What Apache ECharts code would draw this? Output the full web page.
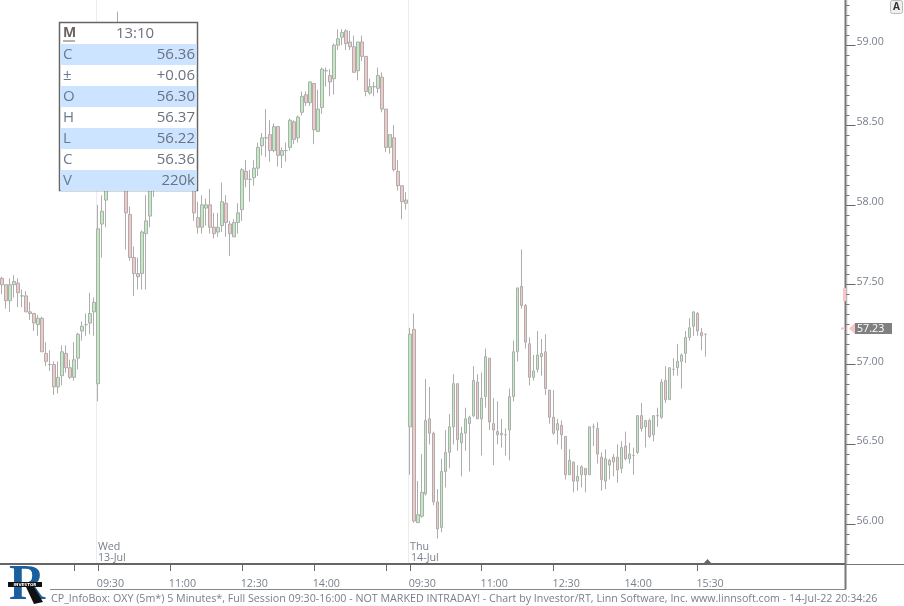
<!DOCTYPE html>
<html><head><meta charset="utf-8">
<style>html,body{margin:0;padding:0;background:#fff}#c{width:904px;height:606px}</style>
<script src="https://cdn.jsdelivr.net/npm/echarts@6/dist/echarts.min.js"></script></head>
<body><div id="c"></div>
<script>
const opens=[57.54,57.50,57.40,57.50,57.51,57.43,57.43,57.33,57.32,57.25,57.29,57.07,57.00,57.00,56.86,56.93,57.07,56.98,56.92,57.04,57.21,57.25,57.26,57.33,
56.88,57.88,58.03,58.12,58.25,58.53,58.78,58.34,57.94,57.67,57.57,57.57,57.82,57.93,58.09,58.25,58.37,58.28,58.47,58.56,58.41,58.31,58.19,58.22,58.09,57.92,
57.86,57.98,58.00,57.86,57.83,57.87,58.01,57.88,57.80,57.89,57.97,58.21,58.16,58.17,58.23,58.37,58.42,58.44,58.34,58.49,58.31,58.34,58.36,58.52,58.42,58.58,
58.69,58.64,58.76,58.46,58.61,58.84,58.81,58.79,59.00,59.05,59.09,59.02,58.99,58.84,59.02,58.93,58.70,58.74,58.73,58.80,58.60,58.36,58.42,58.21,58.12,58.03,
56.61,57.22,56.01,56.05,56.19,56.66,56.57,56.14,55.98,56.33,56.45,56.61,56.88,56.51,56.57,56.63,56.68,56.89,56.66,56.80,57.04,56.63,56.58,56.56,56.56,56.59,
56.80,57.08,57.49,57.37,57.13,56.92,56.97,57.05,57.08,56.84,56.67,56.59,56.62,56.55,56.31,56.39,56.27,56.31,56.35,56.31,56.61,56.60,56.42,56.27,56.40,56.39,
56.42,56.35,56.49,56.41,56.43,56.45,56.68,56.61,56.65,56.56,56.68,56.67,56.90,56.78,56.97,56.98,57.02,57.07,57.17,57.24,57.32,57.20,57.19];
const closes=[57.50,57.40,57.50,57.52,57.45,57.43,57.33,57.32,57.26,57.29,57.08,57.02,57.00,56.86,56.92,57.08,56.98,56.92,57.03,57.19,57.24,57.25,57.32,57.39,
57.85,57.96,58.12,58.25,58.53,58.91,58.34,57.95,57.67,57.57,57.55,57.83,57.90,58.09,58.25,58.34,58.28,58.47,58.56,58.41,58.31,58.19,58.25,58.09,57.95,57.86,
58.00,58.00,57.86,57.82,57.86,58.02,57.89,57.82,57.89,57.95,58.22,58.16,58.16,58.23,58.36,58.42,58.42,58.34,58.49,58.31,58.34,58.34,58.53,58.41,58.55,58.68,
58.64,58.77,58.47,58.60,58.85,58.84,58.77,59.00,59.04,59.08,59.01,58.99,58.83,59.02,58.93,58.71,58.74,58.74,58.81,58.60,58.36,58.44,58.22,58.12,58.02,58.01,
57.19,56.02,56.06,56.20,56.65,56.57,56.14,55.97,56.33,56.45,56.61,56.88,56.53,56.57,56.66,56.67,56.90,56.66,56.79,57.05,56.64,56.59,56.56,56.57,56.56,56.80,
57.08,57.48,57.37,57.14,56.92,56.96,57.06,57.07,56.85,56.67,56.57,56.63,56.56,56.31,56.40,56.27,56.30,56.36,56.31,56.61,56.61,56.44,56.28,56.41,56.37,56.42,
56.34,56.48,56.41,56.44,56.43,56.68,56.60,56.65,56.55,56.68,56.68,56.89,56.78,56.98,56.97,57.02,57.06,57.17,57.23,57.33,57.21,57.18,57.19];
const lows=[57.44,57.35,57.33,57.42,57.36,57.36,57.33,57.28,57.21,57.18,57.08,56.99,56.96,56.81,56.82,56.87,56.95,56.91,56.90,56.97,57.15,57.18,57.19,57.18,
56.77,57.67,57.86,58.10,58.19,58.47,58.22,57.72,57.65,57.43,57.47,57.47,57.47,57.86,58.05,58.19,58.21,58.22,58.41,58.34,58.22,58.12,58.14,58.09,57.90,57.82,
57.82,57.87,57.82,57.79,57.80,57.83,57.80,57.68,57.80,57.82,57.90,58.11,58.02,58.12,58.18,58.31,58.30,58.27,58.33,58.24,58.23,58.27,58.34,58.38,58.39,58.56,
58.62,58.62,58.38,58.46,58.57,58.74,58.68,58.69,58.97,59.00,58.97,58.97,58.83,58.78,58.90,58.68,58.69,58.68,58.70,58.58,58.33,58.32,58.21,58.09,57.91,57.97,
56.31,56.01,56.01,56.04,56.18,56.50,56.12,55.91,55.95,56.23,56.35,56.50,56.46,56.30,56.46,56.33,56.67,56.66,56.43,56.73,56.59,56.37,56.50,56.48,56.43,56.40,
56.77,57.02,57.35,57.10,56.87,56.90,56.95,56.93,56.81,56.63,56.56,56.50,56.47,56.28,56.31,56.20,56.21,56.23,56.20,56.31,56.49,56.38,56.21,56.22,56.28,56.30,
56.26,56.32,56.40,56.38,56.31,56.44,56.58,56.48,56.54,56.52,56.61,56.66,56.76,56.78,56.93,56.93,56.85,57.01,57.15,57.18,57.18,57.09,57.05];
const highs=[57.55,57.50,57.54,57.56,57.54,57.47,57.46,57.39,57.32,57.31,57.30,57.14,57.09,57.02,57.02,57.12,57.12,57.03,57.14,57.20,57.27,57.32,57.45,57.42,
58.00,58.06,58.22,58.34,58.66,59.21,58.91,58.47,57.99,57.74,57.67,57.84,58.06,58.19,58.34,58.44,58.44,58.53,58.63,58.63,58.47,58.34,58.31,58.28,58.12,58.02,
58.06,58.04,58.10,57.95,57.95,58.14,58.06,57.90,57.91,58.01,58.23,58.28,58.22,58.28,58.39,58.45,58.60,58.53,58.51,58.49,58.36,58.39,58.54,58.53,58.56,58.71,
58.71,58.77,58.76,58.72,58.86,58.86,58.85,59.01,59.10,59.10,59.10,59.09,59.06,59.02,59.06,58.93,58.79,58.77,58.86,58.83,58.60,58.44,58.50,58.28,58.12,58.08,
57.23,57.32,56.27,56.44,56.91,56.86,56.58,56.22,56.41,56.59,56.69,56.94,56.88,56.61,56.73,56.68,56.99,56.94,56.95,57.10,57.04,56.79,56.77,56.66,56.60,56.85,
57.15,57.48,57.72,57.38,57.17,57.06,57.21,57.16,57.19,56.84,56.84,56.66,56.65,56.55,56.47,56.39,56.37,56.37,56.35,56.61,56.63,56.64,56.45,56.47,56.41,56.44,
56.50,56.52,56.58,56.51,56.48,56.68,56.76,56.65,56.66,56.68,56.73,56.91,56.99,56.98,57.04,57.13,57.07,57.21,57.29,57.33,57.33,57.23,57.19];

// Session layout of the 5-minute bars
const firstBarMinute = 14*60;        // first visible bar: Tue 14:00
const sessionOpen = 9*60+30, sessionClose = 16*60;
const categories = [];
(function(){ let m = firstBarMinute;
  for (let i=0;i<212;i++){
    categories.push(i<opens.length ? String(Math.floor(m/60)).padStart(2,'0')+':'+String(m%60).padStart(2,'0')+'#'+i : 'pad'+i);
    m+=5; if(m>=sessionClose) m=sessionOpen;
  }})();
const tickIdx = [18,24,42,60,78,96,102,120,138,156,174];
const labelIdx = [24,42,60,78,102,120,138,156,174];
const dayIdx = [24,102];

const yLabels = [56,56.5,57,57.5,58,58.5,59];
const yMinor = [];
for (let v=55.75; v<59.29; v+=0.0625) if(!yLabels.includes(v)) yMinor.push(v);

const infoRows = [['C','56.36'],['±','+0.06'],['O','56.30'],['H','56.37'],['L','56.22'],['C','56.36'],['V','220k']];
const footer = 'CP_InfoBox: OXY (5m*) 5 Minutes*, Full Session 09:30-16:00 - NOT MARKED INTRADAY! - Chart by Investor/RT, Linn Software, Inc. www.linnsoft.com - 14-Jul-22 20:34:26';
const lastPrice = 57.23;

const TXT='#78808c', FONT='"Open Sans"', SMALL=10.7;
const UP='#bdeebd', DOWN='#f5c8c8', EDGE='#adadad';
const g=[];
function line(x1,y1,x2,y2,c,w){g.push({type:'line',z:50,silent:true,shape:{x1,y1,x2,y2},style:{stroke:c,lineWidth:w}});}
function rect(x,y,w,h,f,s,lw,r){g.push({type:'rect',z:60,silent:true,shape:{x,y,width:w,height:h,r:r||0},style:{fill:f,stroke:s||null,lineWidth:lw||0}});}
function text(t,x,y,size,c,align,weight){g.push({type:'text',z:70,silent:true,x,y,style:{text:t,fill:c,font:(weight||'normal')+' '+size+'px '+FONT,align:align||'left',verticalAlign:'middle'}});}

// frame
line(0,564.5,904,564.5,'#777',1);
line(0,564,845,564,'#666',2);
line(845.5,0,845.5,589,'#777',2);
line(50,589.5,846,589.5,'#888',1);
// day labels
text('Wed',98,547,SMALL,TXT); text('13-Jul',98,558,SMALL,TXT);
text('Thu',410,547,SMALL,TXT); text('14-Jul',411,558,SMALL,TXT);
// footer
text(footer,51,599,SMALL,TXT);
// marker on the time axis
g.push({type:'polygon',z:60,silent:true,shape:{points:[[703,564],[707.5,559],[712,564]]},style:{fill:'#666'}});
// price markers
rect(843,288,3,13,'#fbc4c4');
rect(841,327.5,4,2,'#fbc4c4');
g.push({type:'polygon',z:60,silent:true,shape:{points:[[849,328.5],[855,323],[855,334]]},style:{fill:'#fbc4c4'}});
rect(855,323,37,11,'#808080');
text(lastPrice.toFixed(2),857,328.5,SMALL,'#fff');
// A button
rect(890.5,0.5,12,13,'#f0f0f0','#bbb',1,2);
text('A',896.5,7,10,'#333','center','bold');
// info box
rect(59.5,22.5,138,168,'#fff','#666',1.5);
infoRows.forEach((r,i)=>{
  const y=44+i*21;
  if(i%2===0) rect(60.5,y,136,21,'#cce4ff');
  text(r[0],63,y+11,15,'#6b7a90');
  text(r[1],195,y+11,15,'#6b7280','right');
});
text('M',63,33.5,14,'#6b6460','left','bold');
line(63,41,75,41,'#6b6460',1); g[g.length-1].z=70;
text('13:10',135,33.5,15,'#6b7280','center');
// logo
text('R',9,586,50,'#1c5f9e');
g[g.length-1].style.font='bold 50px "Liberation Serif"';
g.push({type:'polygon',z:75,silent:true,shape:{points:[[26,587],[34,587],[43,602],[34,604]]},style:{fill:'#111'}});
rect(8,582,34,5,'#111'); g[g.length-1].z=75;
g.push({type:'text',z:76,silent:true,x:25,y:584.5,style:{text:'INVESTOR',fill:'#fff',font:'bold 4px "DejaVu Sans"',align:'center',verticalAlign:'middle'}});

const candle = opens.map((o,i)=>[o,closes[i],lows[i],highs[i]]);
const yBase={type:'value',position:'right',min:55.751,max:59.283,offset:-2,scale:true,splitLine:{show:false},minorTick:{show:false},minorSplitLine:{show:false}};
const option={
  animation:false,
  backgroundColor:'#fff',
  grid:{left:-0.5,right:56.5,top:0,bottom:42,containLabel:false},
  xAxis:{type:'category',data:categories,boundaryGap:true,
    axisLine:{show:false},
    axisTick:{show:true,alignWithLabel:true,length:7,lineStyle:{color:'#666',width:1},interval:i=>tickIdx.includes(i)},
    splitLine:{show:true,interval:i=>dayIdx.includes(i),lineStyle:{color:'#ececec',width:1}},
    axisLabel:{show:true,interval:i=>labelIdx.includes(i),align:'center',padding:[0,0,0,25],margin:14,color:TXT,fontFamily:FONT,fontSize:SMALL,
      hideOverlap:false,formatter:v=>v.split('#')[0]}},
  yAxis:[
    Object.assign({},yBase,{
      axisLine:{show:false},
      axisTick:{show:true,length:10,lineStyle:{color:'#666',width:1},customValues:yLabels},
      axisLabel:{show:true,margin:11,color:TXT,fontFamily:FONT,fontSize:SMALL,verticalAlign:'bottom',lineHeight:6,customValues:yLabels,formatter:v=>Number(v).toFixed(2),showMinLabel:true,showMaxLabel:true}
    }),
    Object.assign({},yBase,{
      axisLine:{show:false},
      axisTick:{show:true,length:4,lineStyle:{color:'#777',width:1},customValues:yMinor},
      axisLabel:{show:false}
    })
  ],
  graphic:{elements:g},
  series:[{type:'candlestick',data:candle,barWidth:3,
    itemStyle:{color:UP,color0:DOWN,borderColor:EDGE,borderColor0:EDGE,borderColorDoji:EDGE,borderWidth:1}}]
};
echarts.init(document.getElementById('c')).setOption(option);
</script></body></html>
